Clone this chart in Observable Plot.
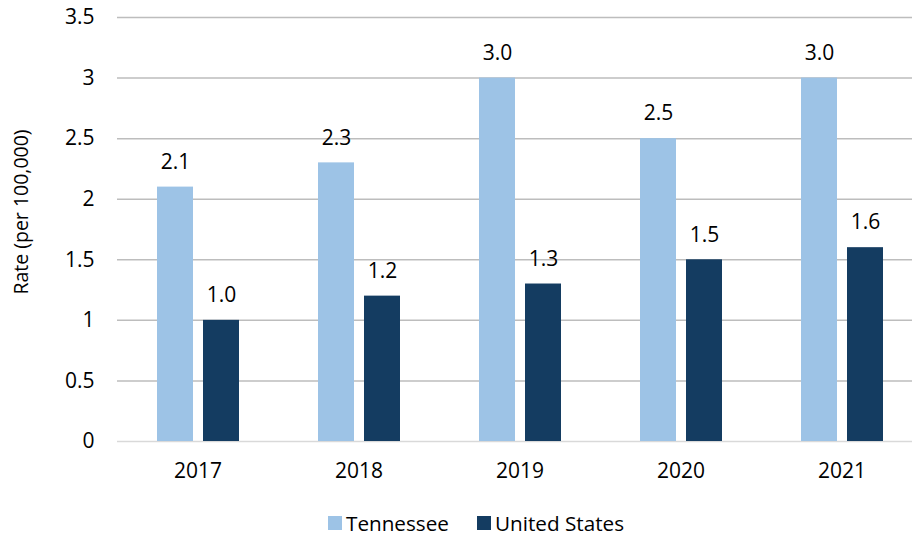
<!DOCTYPE html>
<html>
<head>
<meta charset="utf-8">
<script src="https://cdn.jsdelivr.net/npm/d3@7"></script>
<script src="https://cdn.jsdelivr.net/npm/@observablehq/plot@0.6"></script>
<style>
  html, body { margin: 0; padding: 0; background: #fff; }
  body { width: 912px; height: 536px; overflow: hidden; font-family: "Open Sans", sans-serif; }
  #chart svg { overflow: hidden; }
  #chart [aria-label="y-axis label"] { font-size: 19.5px; transform: translate(-103px, -17px); }
  #legend { display: flex; justify-content: center; align-items: center; padding-left: 40px; margin-top: 17px; font-size: 20.7px; color: #000; }
  .item { display: flex; align-items: center; margin: 0 14px; }
  .sw { width: 14px; height: 14px; margin-right: 4px; }
</style>
</head>
<body>
<div id="chart"></div>
<div id="legend"></div>
<script>
const years = ["2017", "2018", "2019", "2020", "2021"];
const tennessee = [2.1, 2.3, 3.0, 2.5, 3.0];
const unitedStates = [1.0, 1.2, 1.3, 1.5, 1.6];
const seriesNames = ["Tennessee", "United States"];
const colors = ["#9DC3E6", "#143C61"];
const yTicks = [0, 0.5, 1, 1.5, 2, 2.5, 3, 3.5];
const yLabel = "Rate (per 100,000)";

const data = years.flatMap((y, i) => [
  {year: y, series: seriesNames[0], value: tennessee[i]},
  {year: y, series: seriesNames[1], value: unitedStates[i]}
]);

const chart = Plot.plot({
  width: 912,
  height: 492,
  marginLeft: 117,
  marginRight: -10,
  marginTop: 17,
  marginBottom: 51,
  style: {fontFamily: "Open Sans, sans-serif", fontSize: "21px", color: "#000", background: "white"},
  fx: {domain: years, padding: 0, label: null, axis: "bottom", tickSize: 0, tickPadding: 22},
  x: {domain: seriesNames, axis: null, paddingInner: 0.227, paddingOuter: 0.853},
  y: {domain: [0, 3.5], ticks: yTicks, tickFormat: d => String(d), tickSize: 0, tickPadding: 23,
      label: yLabel, labelAnchor: "center", labelOffset: 103, labelArrow: "none"},
  color: {domain: seriesNames, range: colors},
  marks: [
    Plot.ruleY(yTicks.filter(d => d > 0), {stroke: "#BDBDBD", strokeWidth: 1.5}),
    Plot.ruleY([0], {stroke: "#D9D9D9", strokeWidth: 1.5}),
    Plot.barY(data, {fx: "year", x: "series", y: "value", fill: "series"}),
    Plot.text(data, {fx: "year", x: "series", y: "value", text: d => d.value.toFixed(1), dy: -25, fontSize: 21, fill: "#000"})
  ]
});
document.getElementById("chart").appendChild(chart);

const legend = document.getElementById("legend");
seriesNames.forEach((name, i) => {
  const item = document.createElement("div");
  item.className = "item";
  const sw = document.createElement("span");
  sw.className = "sw";
  sw.style.background = colors[i];
  const label = document.createElement("span");
  label.textContent = name;
  item.appendChild(sw);
  item.appendChild(label);
  legend.appendChild(item);
});
</script>
</body>
</html>
